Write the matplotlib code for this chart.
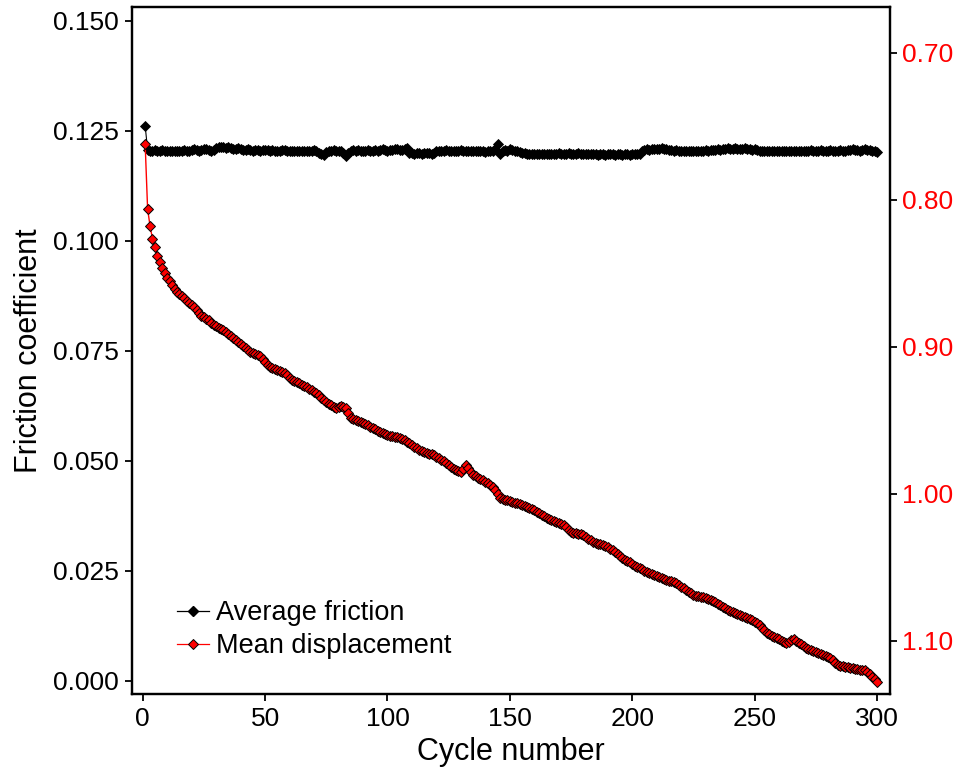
import numpy as np
import matplotlib
matplotlib.use("Agg")
import matplotlib.pyplot as plt
from matplotlib.lines import Line2D
from matplotlib.ticker import FormatStrFormatter

plt.rcParams['font.family'] = ['Liberation Sans', 'DejaVu Sans']

cycles = np.arange(1, 301)

# Average friction coefficient per cycle (left axis)
friction = [
    0.1261, 0.1207, 0.1205, 0.1204, 0.1206, 0.1205, 0.1204, 0.1206, 0.1205, 0.1204,
    0.1203, 0.1205, 0.1204, 0.1203, 0.1205, 0.1204, 0.1206, 0.1205, 0.1204, 0.1207,
    0.1208, 0.1206, 0.1205, 0.1207, 0.1209, 0.1208, 0.1206, 0.1205, 0.1207, 0.1210,
    0.1212, 0.1213, 0.1212, 0.1211, 0.1212, 0.1210, 0.1208, 0.1209, 0.1211, 0.1209,
    0.1207, 0.1206, 0.1208, 0.1206, 0.1205, 0.1207, 0.1206, 0.1205, 0.1206, 0.1207,
    0.1206, 0.1205, 0.1206, 0.1205, 0.1204, 0.1205, 0.1206, 0.1207, 0.1205, 0.1204,
    0.1203, 0.1205, 0.1204, 0.1203, 0.1205, 0.1204, 0.1203, 0.1204, 0.1205, 0.1206,
    0.1203, 0.1200, 0.1198, 0.1194, 0.1201, 0.1205, 0.1204, 0.1206, 0.1205, 0.1203,
    0.1204, 0.1200, 0.1193, 0.1200, 0.1205, 0.1206, 0.1205, 0.1206, 0.1205, 0.1204,
    0.1205, 0.1206, 0.1205, 0.1204, 0.1206, 0.1205, 0.1207, 0.1208, 0.1206, 0.1205,
    0.1207, 0.1206, 0.1208, 0.1209, 0.1207, 0.1206, 0.1208, 0.1210, 0.1199, 0.1200,
    0.1198, 0.1199, 0.1200, 0.1198, 0.1199, 0.1200, 0.1199, 0.1198, 0.1200, 0.1204,
    0.1205, 0.1204, 0.1205, 0.1206, 0.1205, 0.1204, 0.1205, 0.1204, 0.1205, 0.1206,
    0.1205, 0.1204, 0.1205, 0.1204, 0.1203, 0.1205, 0.1204, 0.1203, 0.1204, 0.1202,
    0.1203, 0.1204, 0.1203, 0.1209, 0.1220, 0.1196, 0.1203, 0.1206, 0.1203, 0.1208,
    0.1206, 0.1203, 0.1205, 0.1202, 0.1200, 0.1199, 0.1198, 0.1197, 0.1198, 0.1197,
    0.1198, 0.1197, 0.1196, 0.1197, 0.1198, 0.1197, 0.1196, 0.1197, 0.1198, 0.1199,
    0.1198, 0.1197, 0.1198, 0.1199, 0.1198, 0.1197, 0.1198, 0.1199, 0.1198, 0.1197,
    0.1198, 0.1197, 0.1198, 0.1196, 0.1197, 0.1195, 0.1196, 0.1197, 0.1195, 0.1196,
    0.1197, 0.1196, 0.1195, 0.1197, 0.1196, 0.1195, 0.1197, 0.1196, 0.1195, 0.1196,
    0.1197, 0.1196, 0.1198, 0.1205, 0.1207, 0.1208, 0.1207, 0.1208, 0.1209, 0.1208,
    0.1209, 0.1210, 0.1209, 0.1208, 0.1207, 0.1206, 0.1205, 0.1206, 0.1205, 0.1204,
    0.1205, 0.1204, 0.1205, 0.1204, 0.1203, 0.1204, 0.1205, 0.1204, 0.1205, 0.1206,
    0.1205, 0.1206, 0.1207, 0.1206, 0.1208, 0.1207, 0.1209, 0.1208, 0.1210, 0.1209,
    0.1208, 0.1210, 0.1209, 0.1208, 0.1209, 0.1210, 0.1208, 0.1209, 0.1207, 0.1208,
    0.1206, 0.1205, 0.1204, 0.1205, 0.1204, 0.1203, 0.1204, 0.1205, 0.1204, 0.1205,
    0.1204, 0.1205, 0.1204, 0.1203, 0.1204, 0.1205, 0.1204, 0.1203, 0.1204, 0.1205,
    0.1204, 0.1205, 0.1206, 0.1205, 0.1204, 0.1205, 0.1206, 0.1205, 0.1204, 0.1205,
    0.1206, 0.1205, 0.1204, 0.1205, 0.1206, 0.1205, 0.1204, 0.1206, 0.1207, 0.1208,
    0.1207, 0.1206, 0.1205, 0.1207, 0.1208, 0.1207, 0.1206, 0.1204, 0.1203, 0.1201,
]

# Mean displacement per cycle (right axis, inverted)
displacement = [
    0.7621, 0.8063, 0.8179, 0.8267, 0.8322, 0.8383, 0.8424, 0.8464, 0.8499, 0.8533,
    0.8556, 0.8580, 0.8606, 0.8628, 0.8641, 0.8655, 0.8669, 0.8688, 0.8702, 0.8717,
    0.8730, 0.8749, 0.8772, 0.8791, 0.8798, 0.8812, 0.8820, 0.8838, 0.8852, 0.8861,
    0.8870, 0.8877, 0.8889, 0.8901, 0.8914, 0.8925, 0.8942, 0.8955, 0.8968, 0.8982,
    0.8995, 0.9009, 0.9022, 0.9036, 0.9042, 0.9049, 0.9055, 0.9063, 0.9085, 0.9104,
    0.9122, 0.9136, 0.9145, 0.9154, 0.9160, 0.9168, 0.9172, 0.9179, 0.9195, 0.9212,
    0.9227, 0.9233, 0.9241, 0.9250, 0.9259, 0.9266, 0.9274, 0.9285, 0.9296, 0.9306,
    0.9315, 0.9331, 0.9348, 0.9362, 0.9376, 0.9388, 0.9399, 0.9408, 0.9417, 0.9410,
    0.9405, 0.9412, 0.9417, 0.9452, 0.9485, 0.9492, 0.9500, 0.9507, 0.9513, 0.9519,
    0.9527, 0.9536, 0.9545, 0.9553, 0.9562, 0.9571, 0.9579, 0.9587, 0.9594, 0.9601,
    0.9605, 0.9609, 0.9613, 0.9617, 0.9621, 0.9630, 0.9638, 0.9647, 0.9655, 0.9668,
    0.9680, 0.9692, 0.9703, 0.9710, 0.9716, 0.9722, 0.9727, 0.9732, 0.9737, 0.9748,
    0.9760, 0.9771, 0.9781, 0.9791, 0.9805, 0.9818, 0.9830, 0.9839, 0.9846, 0.9853,
    0.9830, 0.9805, 0.9827, 0.9851, 0.9873, 0.9881, 0.9890, 0.9899, 0.9907, 0.9919,
    0.9930, 0.9942, 0.9953, 0.9978, 1.0003, 1.0028, 1.0035, 1.0041, 1.0045, 1.0049,
    1.0055, 1.0060, 1.0066, 1.0071, 1.0077, 1.0084, 1.0091, 1.0097, 1.0104, 1.0111,
    1.0122, 1.0133, 1.0144, 1.0155, 1.0165, 1.0172, 1.0179, 1.0186, 1.0193, 1.0200,
    1.0207, 1.0213, 1.0229, 1.0245, 1.0261, 1.0265, 1.0269, 1.0273, 1.0277, 1.0281,
    1.0293, 1.0305, 1.0317, 1.0329, 1.0334, 1.0339, 1.0344, 1.0349, 1.0358, 1.0366,
    1.0375, 1.0383, 1.0397, 1.0411, 1.0424, 1.0438, 1.0448, 1.0458, 1.0468, 1.0479,
    1.0489, 1.0499, 1.0507, 1.0515, 1.0524, 1.0532, 1.0540, 1.0547, 1.0553, 1.0560,
    1.0567, 1.0573, 1.0580, 1.0586, 1.0591, 1.0597, 1.0602, 1.0608, 1.0620, 1.0632,
    1.0643, 1.0655, 1.0666, 1.0678, 1.0689, 1.0693, 1.0697, 1.0702, 1.0706, 1.0710,
    1.0717, 1.0724, 1.0730, 1.0737, 1.0748, 1.0759, 1.0769, 1.0780, 1.0791, 1.0798,
    1.0805, 1.0811, 1.0818, 1.0825, 1.0832, 1.0839, 1.0845, 1.0852, 1.0859, 1.0870,
    1.0882, 1.0893, 1.0911, 1.0930, 1.0948, 1.0957, 1.0965, 1.0974, 1.0982, 1.0991,
    1.0999, 1.1008, 1.1016, 1.1007, 1.0998, 1.0989, 1.1001, 1.1013, 1.1026, 1.1038,
    1.1050, 1.1057, 1.1064, 1.1070, 1.1077, 1.1084, 1.1091, 1.1098, 1.1104, 1.1111,
    1.1118, 1.1134, 1.1149, 1.1165, 1.1169, 1.1173, 1.1178, 1.1182, 1.1186, 1.1189,
    1.1192, 1.1194, 1.1197, 1.1199, 1.1199, 1.1214, 1.1230, 1.1245, 1.1263, 1.1280,
]

x_ticks = [0, 50, 100, 150, 200, 250, 300]
left_ticks = [0.000, 0.025, 0.050, 0.075, 0.100, 0.125, 0.150]
right_ticks = [0.70, 0.80, 0.90, 1.00, 1.10]

fig = plt.figure(figsize=(9.55, 7.69), dpi=100)
ax = fig.add_axes([0.1379, 0.0975, 0.7940, 0.8930])
ax2 = ax.twinx()

ax.plot(cycles, friction, color='black', lw=0.8, marker='D', markersize=5.0,
        markerfacecolor='black', markeredgecolor='black', markeredgewidth=0.6)
ax2.plot(cycles, displacement, color='red', lw=1.0, marker='D', markersize=5.0,
         markerfacecolor='red', markeredgecolor='black', markeredgewidth=0.7)

ax.set_xlim(-4.5, 305.3)
ax.set_ylim(-0.00302, 0.15305)
ax2.set_ylim(1.1363, 0.6691)

ax.set_xticks(x_ticks)
ax.set_yticks(left_ticks)
ax.yaxis.set_major_formatter(FormatStrFormatter('%.3f'))
ax2.set_yticks(right_ticks)
ax2.yaxis.set_major_formatter(FormatStrFormatter('%.2f'))

for a in (ax, ax2):
    for s in a.spines.values():
        s.set_linewidth(1.6)
ax.tick_params(axis='both', direction='out', length=5, width=1.3,
               labelsize=19, pad=4)
ax2.tick_params(axis='y', direction='out', length=5, width=1.3,
                labelsize=19, pad=4, labelcolor='red')

ax.set_xlabel('Cycle number', fontsize=22, labelpad=5)
ax.set_ylabel('Friction coefficient', fontsize=22, labelpad=7)

handles = [
    Line2D([], [], color='black', lw=0.9, marker='D', markersize=5.0,
           markerfacecolor='black', markeredgecolor='black'),
    Line2D([], [], color='red', lw=0.9, marker='D', markersize=5.0,
           markerfacecolor='red', markeredgecolor='black', markeredgewidth=0.7),
]
ax2.legend(handles, ['Average friction', 'Mean displacement'],
           loc='lower left', bbox_to_anchor=(0.045, 0.035), frameon=False,
           fontsize=19.5, handlelength=1.2, handletextpad=0.25,
           labelspacing=0.25, borderaxespad=0.0)

fig.savefig('out.png', dpi=100)
